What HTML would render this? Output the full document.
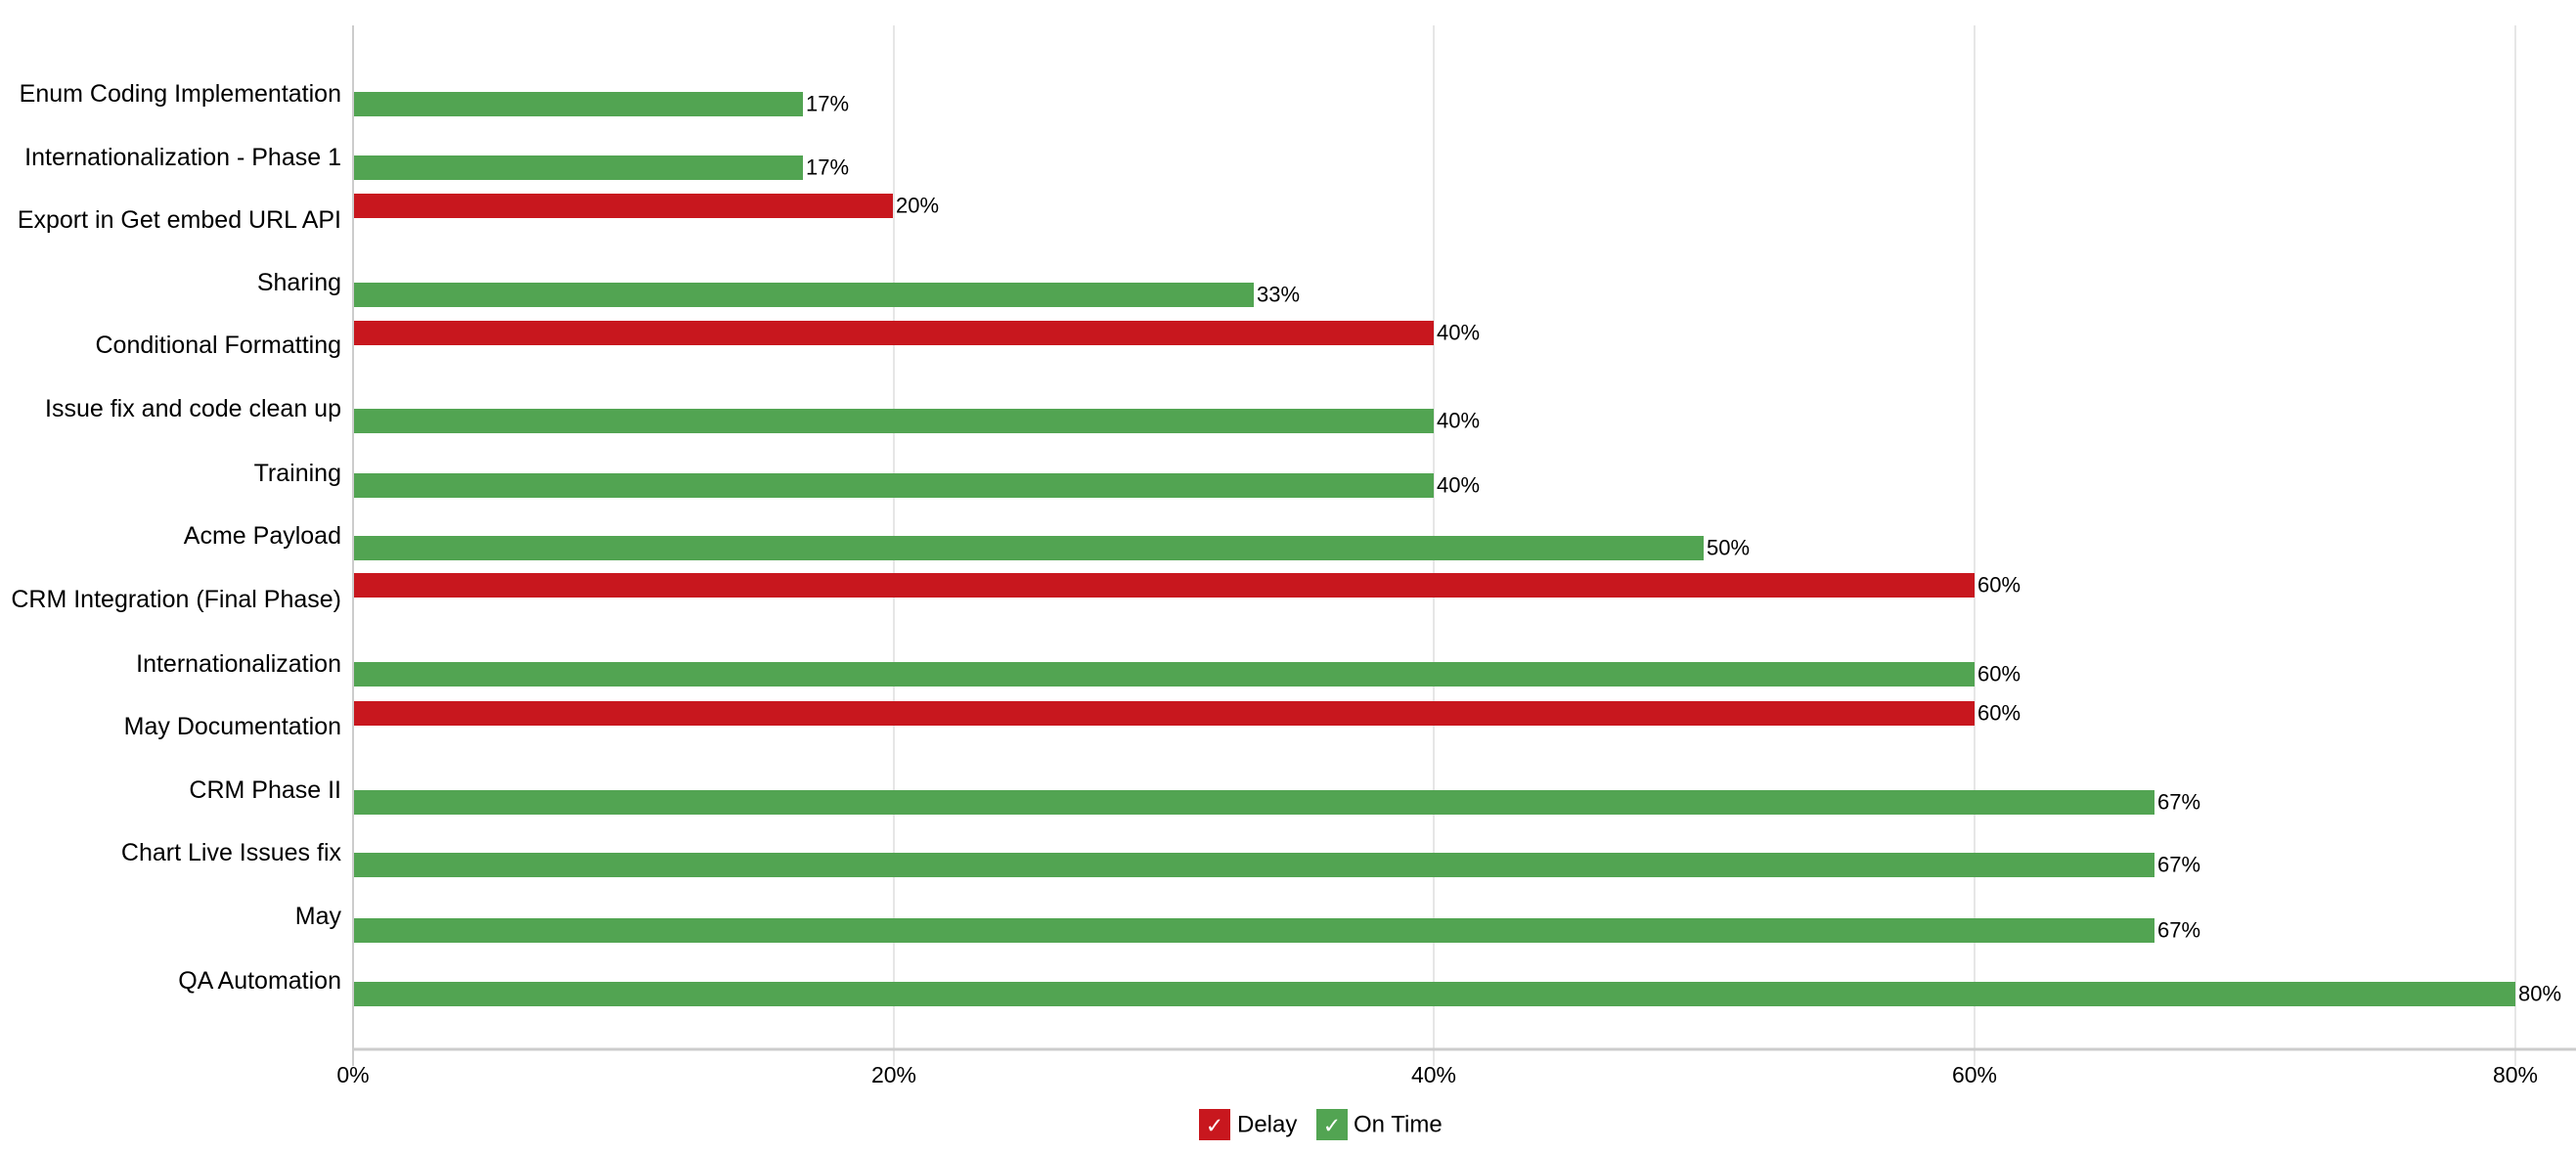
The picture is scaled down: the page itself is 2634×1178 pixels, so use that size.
<!DOCTYPE html>
<html><head><meta charset="utf-8"><style>
html,body{margin:0;padding:0;background:#fff;}
svg{display:block;font-family:"Liberation Sans",sans-serif;}
</style></head><body>
<svg width="2634" height="1178" viewBox="0 0 2634 1178" xmlns="http://www.w3.org/2000/svg">
<g stroke="#e6e6e6" stroke-width="2">
<line x1="914" y1="26" x2="914" y2="1090"/>
<line x1="1466" y1="26" x2="1466" y2="1090"/>
<line x1="2019" y1="26" x2="2019" y2="1090"/>
<line x1="2572" y1="26" x2="2572" y2="1090"/>
</g>
<line x1="361" y1="26" x2="361" y2="1090" stroke="#ccc" stroke-width="2"/>
<line x1="361" y1="1073" x2="2634" y2="1073" stroke="#ccc" stroke-width="3"/>
<g>
<rect x="362" y="94" width="459" height="25" fill="#52a452"/>
<rect x="362" y="159" width="459" height="25" fill="#52a452"/>
<rect x="362" y="198" width="551" height="25" fill="#c8171e"/>
<rect x="362" y="289" width="920" height="25" fill="#52a452"/>
<rect x="362" y="328" width="1104" height="25" fill="#c8171e"/>
<rect x="362" y="418" width="1104" height="25" fill="#52a452"/>
<rect x="362" y="484" width="1104" height="25" fill="#52a452"/>
<rect x="362" y="548" width="1380" height="25" fill="#52a452"/>
<rect x="362" y="586" width="1657" height="25" fill="#c8171e"/>
<rect x="362" y="677" width="1657" height="25" fill="#52a452"/>
<rect x="362" y="717" width="1657" height="25" fill="#c8171e"/>
<rect x="362" y="808" width="1841" height="25" fill="#52a452"/>
<rect x="362" y="872" width="1841" height="25" fill="#52a452"/>
<rect x="362" y="939" width="1841" height="25" fill="#52a452"/>
<rect x="362" y="1004" width="2210" height="25" fill="#52a452"/>
</g>
<g font-size="22" fill="#000" dominant-baseline="central">
<text x="824" y="106">17%</text>
<text x="824" y="171">17%</text>
<text x="916" y="210">20%</text>
<text x="1285" y="301">33%</text>
<text x="1469" y="340">40%</text>
<text x="1469" y="430">40%</text>
<text x="1469" y="496">40%</text>
<text x="1745" y="560">50%</text>
<text x="2022" y="598">60%</text>
<text x="2022" y="689">60%</text>
<text x="2022" y="729">60%</text>
<text x="2206" y="820">67%</text>
<text x="2206" y="884">67%</text>
<text x="2206" y="951">67%</text>
<text x="2575" y="1016">80%</text>
</g>
<g font-size="25" fill="#000" text-anchor="end" dominant-baseline="central">
<text x="349" y="96">Enum Coding Implementation</text>
<text x="349" y="161">Internationalization - Phase 1</text>
<text x="349" y="225">Export in Get embed URL API</text>
<text x="349" y="289">Sharing</text>
<text x="349" y="353">Conditional Formatting</text>
<text x="349" y="418">Issue fix and code clean up</text>
<text x="349" y="484">Training</text>
<text x="349" y="548">Acme Payload</text>
<text x="349" y="613">CRM Integration (Final Phase)</text>
<text x="349" y="679">Internationalization</text>
<text x="349" y="743">May Documentation</text>
<text x="349" y="808">CRM Phase II</text>
<text x="349" y="872">Chart Live Issues fix</text>
<text x="349" y="937">May</text>
<text x="349" y="1003">QA Automation</text>
</g>
<g font-size="23" fill="#000" text-anchor="middle" dominant-baseline="central">
<text x="361" y="1099">0%</text>
<text x="914" y="1099">20%</text>
<text x="1466" y="1099">40%</text>
<text x="2019" y="1099">60%</text>
<text x="2572" y="1099">80%</text>
</g>
<rect x="1226" y="1134" width="32" height="32" fill="#c8171e"/>
<text x="1242" y="1151" font-size="22" fill="#fff" text-anchor="middle" dominant-baseline="central">✓</text>
<text x="1265" y="1150" font-size="24" fill="#000" dominant-baseline="central">Delay</text>
<rect x="1346" y="1134" width="32" height="32" fill="#52a452"/>
<text x="1362" y="1151" font-size="22" fill="#fff" text-anchor="middle" dominant-baseline="central">✓</text>
<text x="1384" y="1150" font-size="24" fill="#000" dominant-baseline="central">On Time</text>
</svg>
</body></html>
